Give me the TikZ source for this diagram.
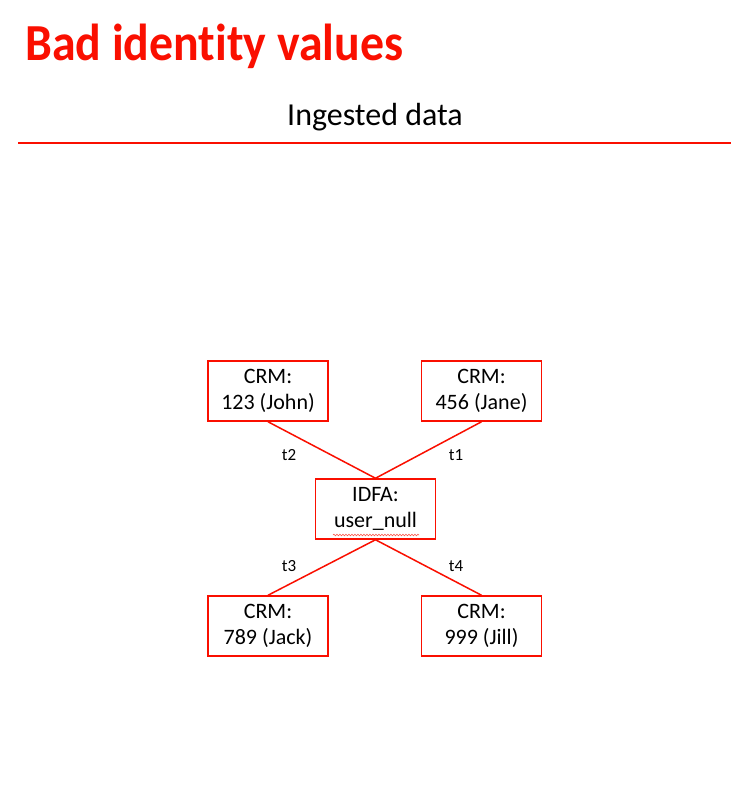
\documentclass[tikz,border=0pt]{standalone}
\usepackage{fontspec}
\setmainfont{Carlito}[Ligatures={NoCommon}]
\usetikzlibrary{decorations.pathmorphing}
\definecolor{adred}{RGB}{250,15,0}
\begin{document}
\begin{tikzpicture}[x=1pt,y=-1pt,
  idbox/.style={draw=adred,line width=1.5pt,minimum width=120pt,minimum height=60pt,inner sep=0pt,align=center,font=\fontsize{22}{26}\selectfont},
  link/.style={draw=adred,line width=1.5pt},
  tlab/.style={font=\fontsize{17}{19}\selectfont}]
\useasboundingbox[fill=white] (0,0) rectangle (736,787);
\node[anchor=base west,text=adred,font=\fontsize{52}{60}\bfseries,inner sep=0pt,xscale=0.92,transform shape] (title) at (25,60) {Bad identity values};
\node[anchor=base,font=\fontsize{32}{36}\selectfont,inner sep=0pt] (sub) at (375,125) {Ingested data};
\coordinate (l1) at (18,143);
\coordinate (l2) at (731,143);
\draw[draw=adred,line width=1.8pt] (l1) -- (l2);
\node[idbox] (john) at (268,391) {CRM:\\123 (John)};
\node[idbox] (jane) at (481.5,391) {CRM:\\456 (Jane)};
\node[idbox] (idfa) at (375.5,509) {IDFA:\\user\_null};
\node[idbox] (jack) at (268,626) {CRM:\\789 (Jack)};
\node[idbox] (jill) at (481.5,626) {CRM:\\999 (Jill)};
\draw[link] (john.south) -- (idfa.north);
\draw[link] (jane.south) -- (idfa.north);
\draw[link] (idfa.south) -- (jack.north);
\draw[link] (idfa.south) -- (jill.north);
\node[tlab] (t2) at (289,455) {t2};
\node[tlab] (t1) at (456,455) {t1};
\node[tlab] (t3) at (289,566) {t3};
\node[tlab] (t4) at (456,566) {t4};
\coordinate (w1) at (333,535);
\coordinate (w2) at (419,535);
\draw[adred!70,line width=0.6pt,decorate,decoration={snake,amplitude=0.8pt,segment length=3pt}] (w1) -- (w2);
\end{tikzpicture}
\end{document}
